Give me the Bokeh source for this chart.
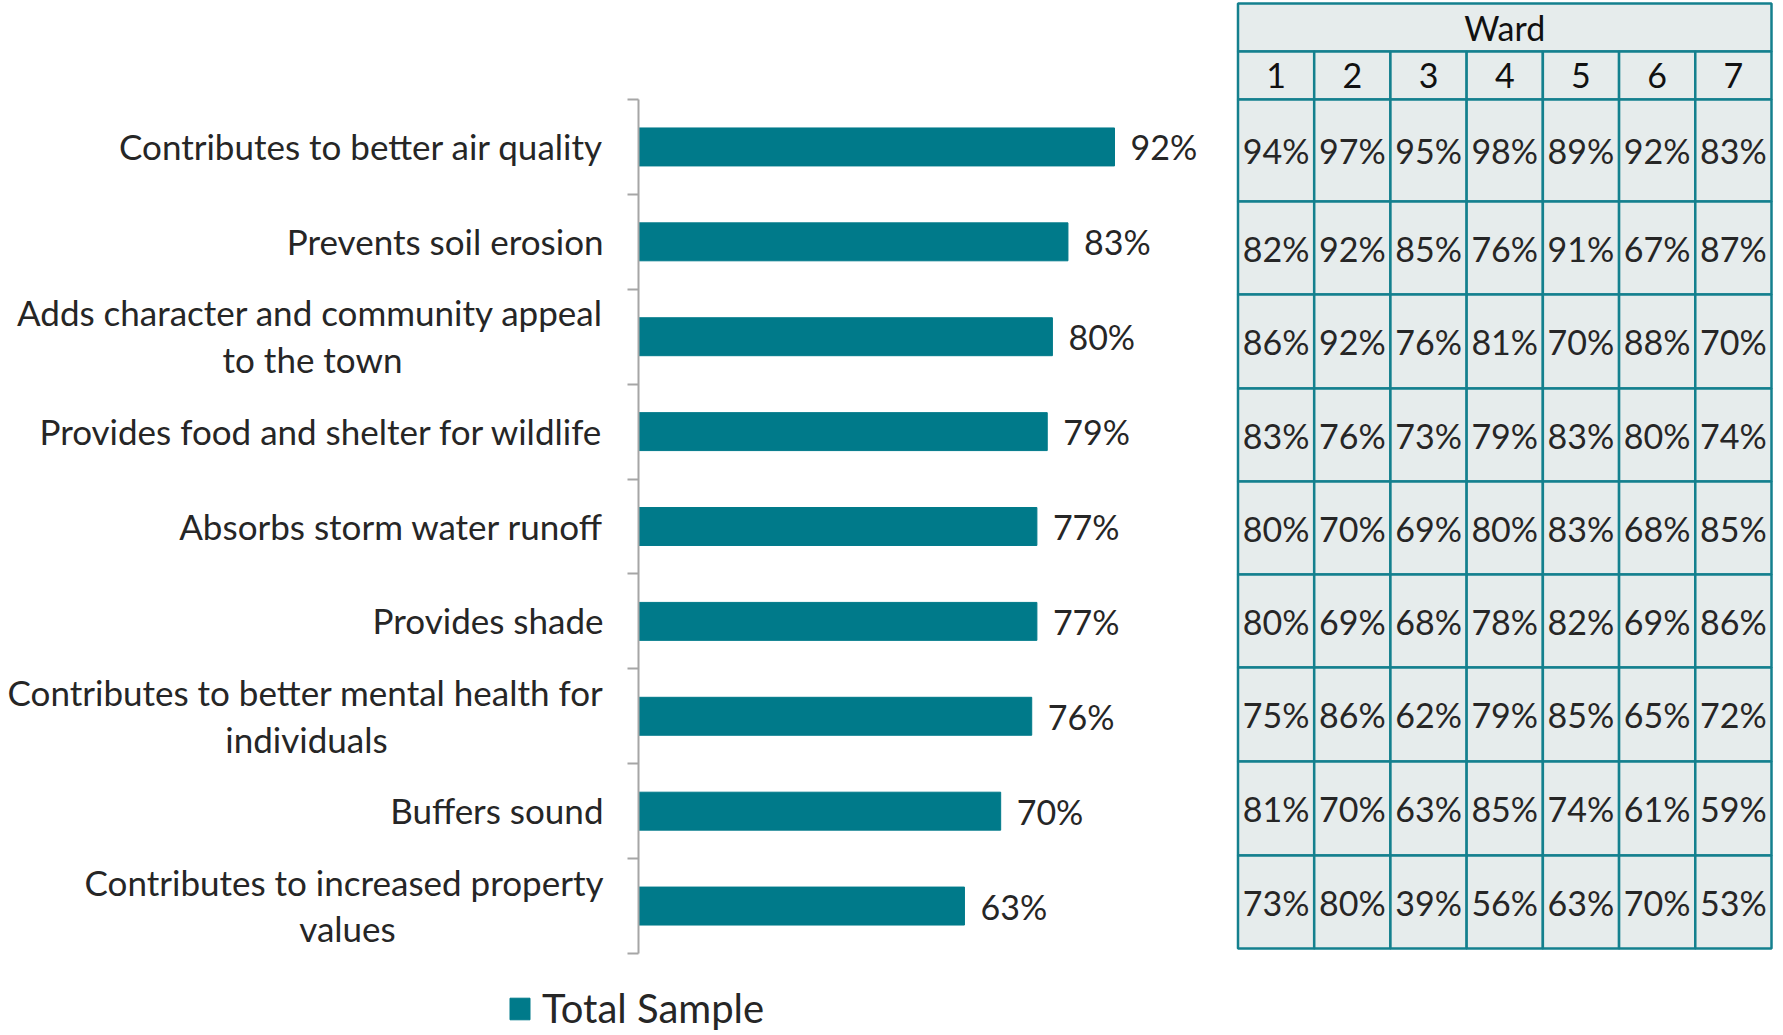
from bokeh.plotting import figure
from bokeh.models import (Range1d, ColumnDataSource, LinearAxis,
                          FixedTicker, Legend, LegendItem)
from bokeh.layouts import row
from bokeh.embed import file_html
from bokeh.resources import INLINE
from bokeh.core.properties import value

# ---------------- data ----------------
categories = [
    "Contributes to better air quality",
    "Prevents soil erosion",
    "Adds character and community appeal\nto the town",
    "Provides food and shelter for wildlife",
    "Absorbs storm water runoff",
    "Provides shade",
    "Contributes to better mental health for\nindividuals",
    "Buffers sound",
    "Contributes to increased property\nvalues",
]
total_sample = [92, 83, 80, 79, 77, 77, 76, 70, 63]
series_name = "Total Sample"

table_title = "Ward"
wards = ["1", "2", "3", "4", "5", "6", "7"]
ward_1 = [94, 82, 86, 83, 80, 80, 75, 81, 73]
ward_2 = [97, 92, 92, 76, 70, 69, 86, 70, 80]
ward_3 = [95, 85, 76, 73, 69, 68, 62, 63, 39]
ward_4 = [98, 76, 81, 79, 80, 78, 79, 85, 56]
ward_5 = [89, 91, 70, 83, 83, 82, 85, 74, 63]
ward_6 = [92, 67, 88, 80, 68, 69, 65, 61, 70]
ward_7 = [83, 87, 70, 74, 85, 86, 72, 59, 53]
ward_values = [ward_1, ward_2, ward_3, ward_4, ward_5, ward_6, ward_7]

# ---------------- style / layout ----------------
FONT = "Lato"
TEXT = "#262626"
BAR = "#007A8A"
AXIS = "#A6A6A6"
TEAL = "#14808E"
CELL = "#E6ECEC"
FS = "34px"
FS_CAT = "35px"

H = 1032
WA = 1229
WB = 551
AXIS_X = 638          # px of the bar axis from the left
PX_PER_PCT = 5.174
CAT_TOP, CAT_BOTTOM = 99, 953

n = len(categories)
px_per_cat = (CAT_BOTTOM - CAT_TOP) / n

# ---------------- bar chart ----------------
pA = figure(width=WA, height=H,
            x_range=Range1d(-AXIS_X / PX_PER_PCT, (WA - AXIS_X) / PX_PER_PCT),
            y_range=Range1d(n + (H - CAT_BOTTOM) / px_per_cat, -CAT_TOP / px_per_cat),
            output_backend="svg", toolbar_location=None,
            x_axis_location=None, y_axis_location=None,
            min_border_left=0, min_border_right=0, min_border_top=0, min_border_bottom=0)
pA.grid.visible = False
pA.outline_line_color = None
pA.background_fill_color = "white"
pA.border_fill_color = "white"

yax = LinearAxis(fixed_location=0, bounds=(0, n),
                 ticker=FixedTicker(ticks=list(range(n + 1))),
                 major_tick_out=11, major_tick_in=0,
                 minor_tick_line_color=None,
                 axis_line_color=AXIS, axis_line_width=2,
                 major_tick_line_color=AXIS, major_tick_line_width=2,
                 major_label_overrides={i: "" for i in range(n + 1)})
pA.add_layout(yax, "left")

ys = [i + 0.5 for i in range(n)]
bar_src = ColumnDataSource(dict(y=ys, v=total_sample,
                                lab=[f"{v}%" for v in total_sample]))
bars = pA.hbar(y="y", left=0, right="v", height=0.4, source=bar_src,
               fill_color=BAR, line_color=BAR)

pA.text(x="v", y="y", text="lab", source=bar_src, x_offset=16,
        text_align="left", text_baseline="middle",
        text_font=value(FONT), text_font_size=FS, text_color=TEXT)

# category labels (first lines right-aligned, second lines centred under first)
second_line_center = {2: 326, 6: 332, 8: 291}   # px left of axis
half_gap = 23.3 / px_per_cat
l1_txt, l1_y, l2_txt, l2_y, l2_off = [], [], [], [], []
for i, c in enumerate(categories):
    parts = c.split("\n")
    if len(parts) == 1:
        l1_txt.append(parts[0]); l1_y.append(ys[i])
    else:
        l1_txt.append(parts[0]); l1_y.append(ys[i] - half_gap)
        l2_txt.append(parts[1]); l2_y.append(ys[i] + half_gap)
        l2_off.append(-second_line_center[i])
src1 = ColumnDataSource(dict(x=[0] * len(l1_txt), y=l1_y, t=l1_txt))
src2 = ColumnDataSource(dict(x=[0] * len(l2_txt), y=l2_y, t=l2_txt, off=l2_off))
pA.text(x="x", y="y", text="t", source=src1, x_offset=-35, y_offset=-1,
        text_align="right", text_baseline="middle",
        text_font=value(FONT), text_font_size=FS_CAT, text_color=TEXT)
pA.text(x="x", y="y", text="t", source=src2, x_offset="off", y_offset=-1,
        text_align="center", text_baseline="middle",
        text_font=value(FONT), text_font_size=FS_CAT, text_color=TEXT)

legend = Legend(items=[LegendItem(label=series_name, renderers=[bars])],
                location=(507, 0), orientation="horizontal",
                label_text_font=FONT, label_text_font_size="40px",
                label_text_color=TEXT, glyph_width=25, glyph_height=27,
                label_standoff=10, padding=0, margin=0,
                border_line_color=None, background_fill_alpha=0)
pA.add_layout(legend)

# ---------------- ward table ----------------
TB_LEFT, TB_RIGHT = 1237.5 - WA, 1771 - WA
px_per_col = (TB_RIGHT - TB_LEFT) / len(wards)
pB = figure(width=WB, height=H,
            x_range=Range1d(-TB_LEFT / px_per_col, (WB - TB_LEFT) / px_per_col),
            y_range=Range1d(H, 0),
            output_backend="svg", toolbar_location=None,
            x_axis_location=None, y_axis_location=None,
            min_border_left=0, min_border_right=0, min_border_top=0, min_border_bottom=0)
pB.grid.visible = False
pB.outline_line_color = None
pB.border_fill_color = "white"
pB.background_fill_color = "white"

# row edges in px (top->bottom): title row, ward-number row, 9 data rows
row_edges = [3, 51, 99, 201, 294, 388, 481, 574, 667, 761, 855, 948]

ql, qr, qt, qb = [], [], [], []
ql.append(0); qr.append(len(wards)); qt.append(row_edges[0]); qb.append(row_edges[1])
for r in range(1, len(row_edges) - 1):
    for c in range(len(wards)):
        ql.append(c); qr.append(c + 1); qt.append(row_edges[r]); qb.append(row_edges[r + 1])
pB.quad(left=ql, right=qr, top=qt, bottom=qb, fill_color=CELL,
        line_color=TEAL, line_width=2.5)

pB.text(x=[len(wards) / 2], y=[(row_edges[0] + row_edges[1]) / 2], text=[table_title],
        text_align="center", text_baseline="middle",
        text_font=value(FONT), text_font_size=FS, text_color="#111111")
pB.text(x=[c + 0.5 for c in range(len(wards))],
        y=[(row_edges[1] + row_edges[2]) / 2] * len(wards), text=wards,
        text_align="center", text_baseline="middle",
        text_font=value(FONT), text_font_size=FS, text_color="#111111")

tx, ty, tt = [], [], []
for c, vals in enumerate(ward_values):
    for r, v in enumerate(vals):
        tx.append(c + 0.5)
        ty.append((row_edges[r + 2] + row_edges[r + 3]) / 2)
        tt.append(f"{v}%")
pB.text(x=tx, y=ty, text=tt, text_align="center", text_baseline="middle",
        text_font=value(FONT), text_font_size=FS, text_color=TEXT)

layout = row(pA, pB, spacing=0)
open("out.html", "w").write(file_html(layout, INLINE))
